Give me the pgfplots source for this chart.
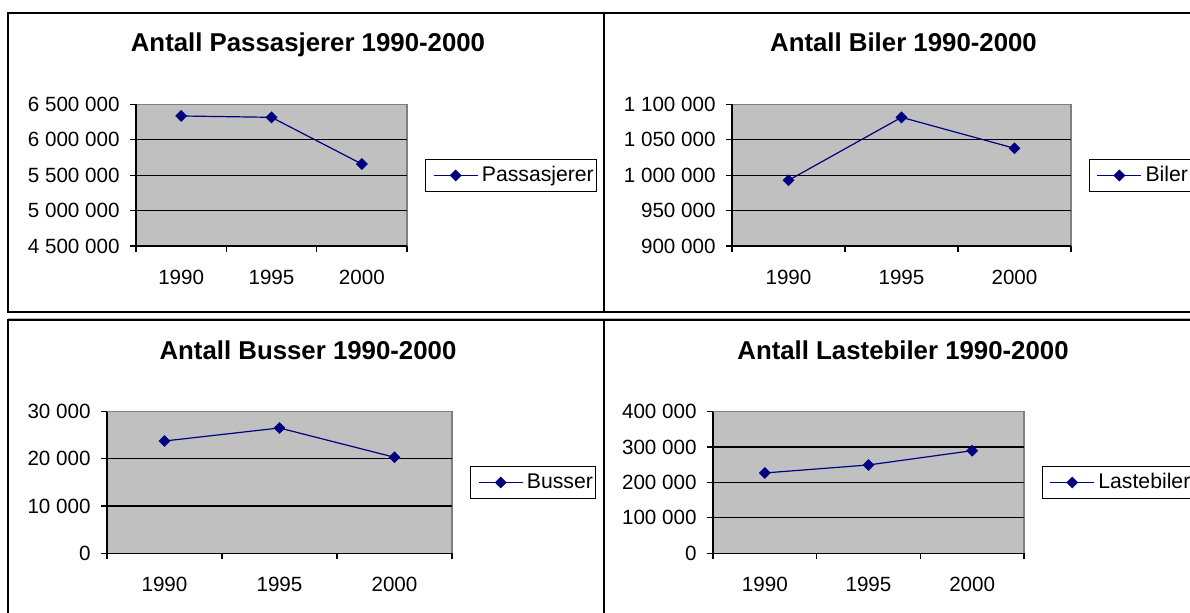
\documentclass[border=0pt]{standalone}
\usepackage{fontspec}
\setmainfont{Liberation Sans}
\usepackage{pgfplots}
\pgfplotsset{compat=1.18}
\definecolor{bggray}{HTML}{C0C0C0}
\definecolor{bordergray}{HTML}{808080}
\definecolor{navy}{HTML}{000080}
\newcommand{\ticksize}{\fontsize{10.3}{12}\selectfont}
\newcommand{\titlefont}{\bfseries\fontsize{12.9}{15}\selectfont}
\pgfplotsset{
  panel/.style={
    scale only axis,
    axis lines=left,
    axis line style={-, black, line width=0.6pt},
    axis background/.style={fill=bggray, draw=bordergray, line width=0.6pt},
    xmin=-0.5, xmax=2.5,
    xtick={-0.5,0.5,1.5,2.5},
    xticklabels={1990,1995,2000},
    x tick label as interval,
    tick align=outside,
    major tick length=3pt,
    tick style={black, line width=0.6pt},
    ymajorgrids,
    major grid style={black, line width=0.6pt},
    extra y tick style={grid=none},
    scaled y ticks=false,
    tick label style={font=\ticksize},
    xticklabel style={yshift=-5.5pt},
    yticklabel style={xshift=-1.7pt},
    title style={font=\titlefont, anchor=base},
    legend style={draw=black, line width=0.5pt, fill=white, anchor=west,
      inner xsep=0.5pt, inner ysep=2.5pt, font=\fontsize{10.6}{12}\selectfont,
      nodes={inner sep=1pt},
      /tikz/every odd column/.append style={column sep=0.8pt}},
    legend image code/.code={\path (0pt,0pt); \draw[mark repeat=2,mark phase=2,##1] plot coordinates {(3.3pt,0pt) (14.3pt,0pt) (25.3pt,0pt)};},
    clip=false,
  },
  ser/.style={navy, line width=0.6pt, mark=square*, mark size=1.8pt,
    mark options={rotate=45, fill=navy, draw=navy, solid}},
}
\begin{document}
\begin{tikzpicture}[x=0.5pt,y=0.5pt]
\useasboundingbox (0,0) rectangle (1190,613);
% frames
\draw[line width=1pt] (8,599.7) rectangle (604,300.5);
\draw[line width=1pt] (604,599.7) rectangle (1200,300.5);
\draw[line width=1pt] (8,293) rectangle (604,-10);
\draw[line width=1pt] (604,293) rectangle (1200,-10);
\draw[line width=0.5pt, gray!60] (8,294.6) -- (1200,294.6);

\begin{axis}[panel, at={(68pt,183.5pt)}, anchor=south west,
  width=135.5pt, height=70.85pt,
  ymin=4500000, ymax=6500000,
  ytick={5000000,5500000,6000000},
  yticklabels={5 000 000,5 500 000,6 000 000},
  extra y ticks={4500000,6500000},
  extra y tick labels={4 500 000,6 500 000},
  title={Antall Passasjerer 1990-2000},
  title style={at={(0.6347,1.2865)}},
  legend style={at={(1.0664,0.4975)}}]
\addplot[ser] coordinates {(0,6335000) (1,6316000) (2,5657000)};
\addlegendentry{Passasjerer}
\end{axis}

\begin{axis}[panel, at={(366pt,183.5pt)}, anchor=south west,
  width=169.5pt, height=70.85pt,
  ymin=900000, ymax=1100000,
  ytick={950000,1000000,1050000},
  yticklabels={950 000,1 000 000,1 050 000},
  extra y ticks={900000,1100000},
  extra y tick labels={900 000,1 100 000},
  title={Antall Biler 1990-2000},
  title style={at={(0.5059,1.2865)}},
  legend style={at={(1.0522,0.4975)}}]
\addplot[ser] coordinates {(0,992700) (1,1081600) (2,1037900)};
\addlegendentry{Biler}
\end{axis}

\begin{axis}[panel, at={(53.5pt,29.85pt)}, anchor=south west,
  width=172.5pt, height=70.8pt,
  ymin=0, ymax=30000,
  ytick={10000,20000},
  yticklabels={10 000,20 000},
  extra y ticks={0,30000},
  extra y tick labels={0,30 000},
  title={Antall Busser 1990-2000},
  title style={at={(0.5826,1.2853)}},
  legend style={at={(1.0522,0.5)}}]
\addplot[ser] coordinates {(0,23790) (1,26550) (2,20340)};
\addlegendentry{Busser}
\end{axis}

\begin{axis}[panel, at={(356.5pt,29.85pt)}, anchor=south west,
  width=155.5pt, height=70.8pt,
  ymin=0, ymax=400000,
  ytick={100000,200000,300000},
  yticklabels={100 000,200 000,300 000},
  extra y ticks={0,400000},
  extra y tick labels={0,400 000},
  title={Antall Lastebiler 1990-2000},
  title style={at={(0.611,1.2853)}},
  legend style={at={(1.0563,0.5)}}]
\addplot[ser] coordinates {(0,226900) (1,249500) (2,289900)};
\addlegendentry{Lastebiler}
\end{axis}
\end{tikzpicture}
\end{document}
